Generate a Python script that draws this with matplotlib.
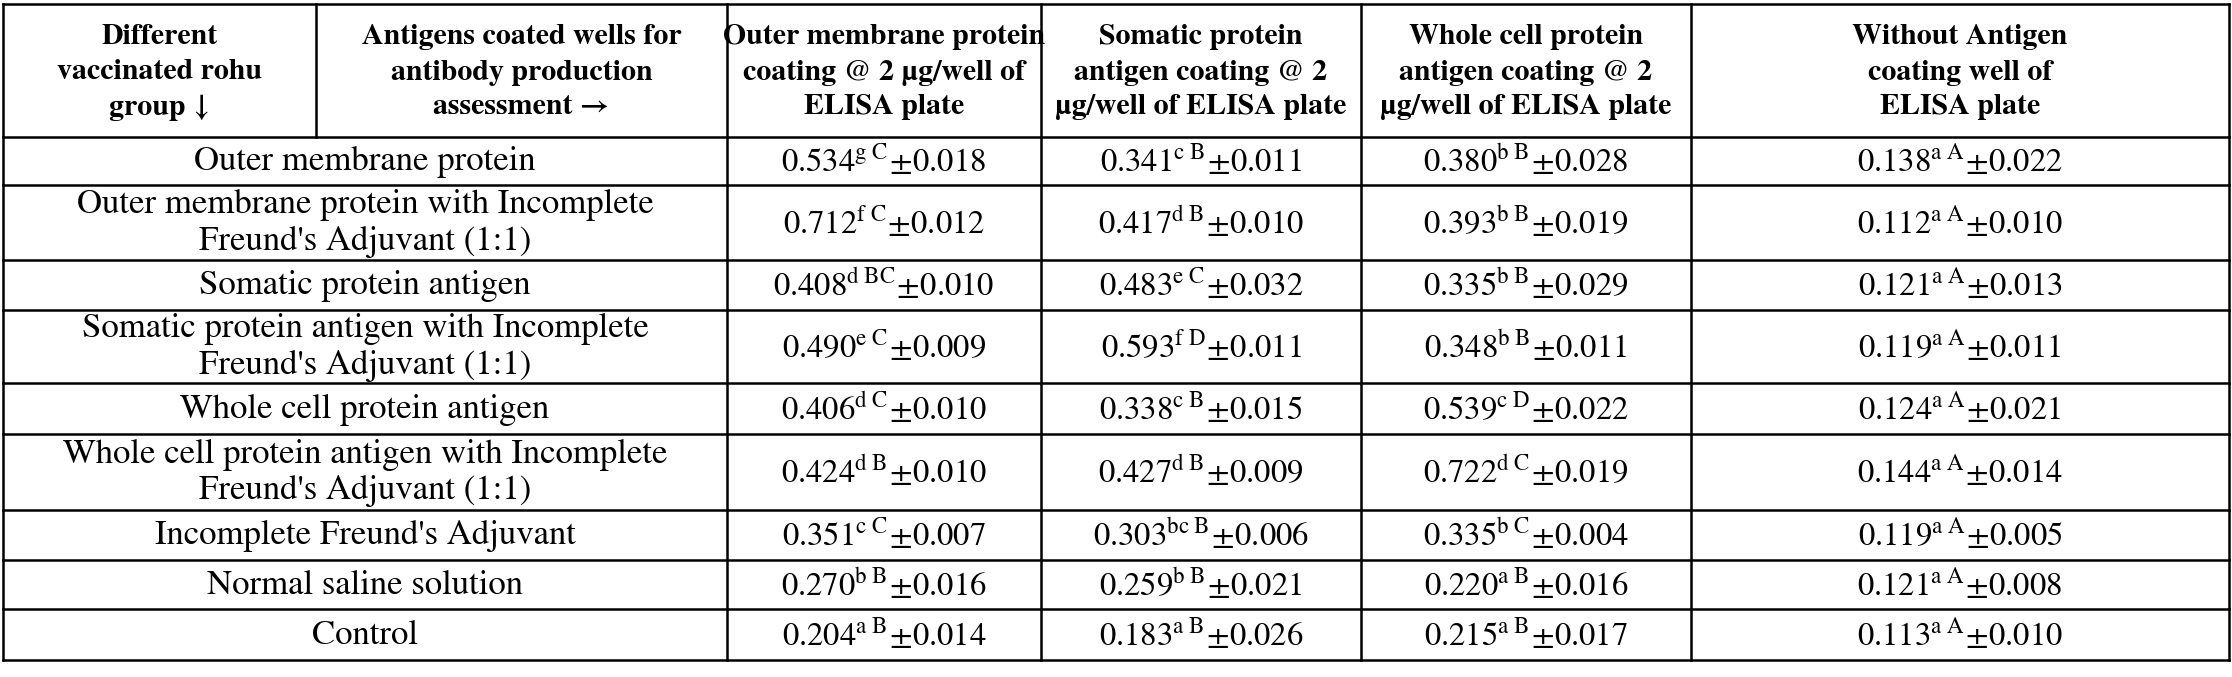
import matplotlib.pyplot as plt

plt.rcParams['font.family'] = ['STIXGeneral', 'DejaVu Serif']
plt.rcParams['mathtext.fontset'] = 'stix'

headers = ["Different\nvaccinated rohu\ngroup \u2193",
           "Antigens coated wells for\nantibody production\nassessment \u2192",
           "Outer membrane protein\ncoating @ 2 \u00b5g/well of\nELISA plate",
           "Somatic protein\nantigen coating @ 2\n\u00b5g/well of ELISA plate",
           "Whole cell protein\nantigen coating @ 2\n\u00b5g/well of ELISA plate",
           "Without Antigen\ncoating well of\nELISA plate"]

groups = ["Outer membrane protein",
          "Outer membrane protein with Incomplete\nFreund's Adjuvant (1:1)",
          "Somatic protein antigen",
          "Somatic protein antigen with Incomplete\nFreund's Adjuvant (1:1)",
          "Whole cell protein antigen",
          "Whole cell protein antigen with Incomplete\nFreund's Adjuvant (1:1)",
          "Incomplete Freund's Adjuvant",
          "Normal saline solution",
          "Control"]

means = [[0.534, 0.341, 0.380, 0.138],
         [0.712, 0.417, 0.393, 0.112],
         [0.408, 0.483, 0.335, 0.121],
         [0.490, 0.593, 0.348, 0.119],
         [0.406, 0.338, 0.539, 0.124],
         [0.424, 0.427, 0.722, 0.144],
         [0.351, 0.303, 0.335, 0.119],
         [0.270, 0.259, 0.220, 0.121],
         [0.204, 0.183, 0.215, 0.113]]

small = [["g", "c", "b", "a"], ["f", "d", "b", "a"], ["d", "e", "b", "a"],
         ["e", "f", "b", "a"], ["d", "c", "c", "a"], ["d", "d", "d", "a"],
         ["c", "bc", "b", "a"], ["b", "b", "a", "a"], ["a", "a", "a", "a"]]

caps = [["C", "B", "B", "A"], ["C", "B", "B", "A"], ["BC", "C", "B", "A"],
        ["C", "D", "B", "A"], ["C", "B", "D", "A"], ["B", "B", "C", "A"],
        ["C", "B", "C", "A"], ["B", "B", "B", "A"], ["B", "B", "B", "A"]]

sds = [[0.018, 0.011, 0.028, 0.022],
       [0.012, 0.010, 0.019, 0.010],
       [0.010, 0.032, 0.029, 0.013],
       [0.009, 0.011, 0.011, 0.011],
       [0.010, 0.015, 0.022, 0.021],
       [0.010, 0.009, 0.019, 0.014],
       [0.007, 0.006, 0.004, 0.005],
       [0.016, 0.021, 0.016, 0.008],
       [0.014, 0.026, 0.017, 0.010]]

W, H = 2232, 677
xs = [3, 316, 727, 1041, 1361, 1691, 2229]
ys = [4, 137, 185, 260, 310, 383, 434, 510, 560, 609, 660]

fig = plt.figure(figsize=(W / 100, H / 100), dpi=100)
ax = fig.add_axes([0, 0, 1, 1])
ax.set_xlim(0, W)
ax.set_ylim(H, 0)
ax.axis('off')

lw = 1.8
for y in ys:
    ax.plot([xs[0], xs[-1]], [y, y], color='black', lw=lw)
for i, x in enumerate(xs):
    if i == 1:
        ax.plot([x, x], [ys[0], ys[1]], color='black', lw=lw)
    else:
        ax.plot([x, x], [ys[0], ys[-1]], color='black', lw=lw)

for j, h in enumerate(headers):
    ax.text((xs[j] + xs[j + 1]) / 2, (ys[0] + ys[1]) / 2 + 2, h, ha='center',
            va='center', fontsize=21.5, fontweight='bold', linespacing=1.45)

for i, g in enumerate(groups):
    yc = (ys[i + 1] + ys[i + 2]) / 2
    ax.text((xs[0] + xs[2]) / 2, yc + 1, g, ha='center', va='center',
            fontsize=25, linespacing=1.2)
    for j in range(4):
        s = r"$%.3f^{\mathrm{%s}\ \mathrm{%s}}\!\pm\!%.3f$" % (
            means[i][j], small[i][j], caps[i][j], sds[i][j])
        ax.text((xs[j + 2] + xs[j + 3]) / 2, yc, s, ha='center',
                va='center', fontsize=23.5)

fig.savefig('out.png', dpi=100)
